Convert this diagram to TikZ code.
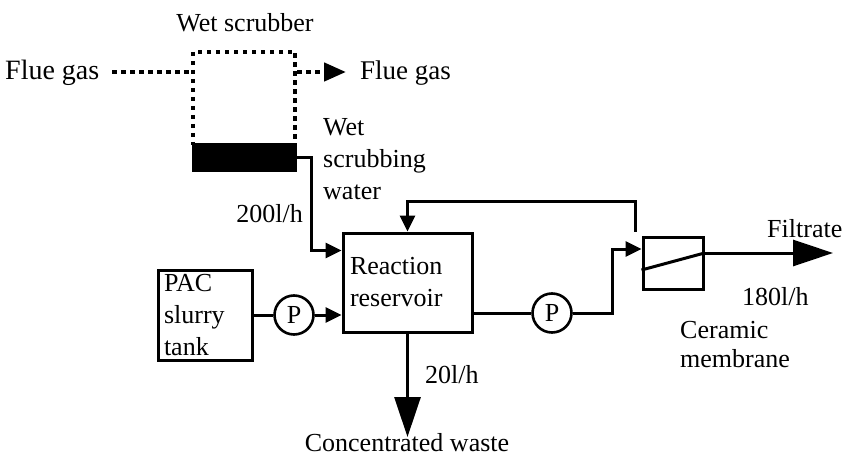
\documentclass[tikz,border=0pt]{standalone}
\usepackage{fontspec}
\setmainfont{Liberation Serif}
\usetikzlibrary{arrows.meta, positioning, calc}

\begin{document}
\begin{tikzpicture}[x=1pt, y=-1pt,
  every node/.style={font=\fontsize{26}{32}\selectfont},
  box/.style={draw, line width=3pt, inner sep=0pt, align=left},
  pump/.style={draw, circle, line width=2.6pt, inner sep=0pt, minimum size=39pt},
  dots/.style={draw, line width=4.5pt, dash pattern=on 4.5pt off 4.5pt},
  lbl/.style={inner sep=0pt, align=left},
  pipe/.style={line width=3pt},
  arr/.style={pipe, -{Triangle[length=16pt, width=15pt]}},
  bigarr/.style={pipe, -{Triangle[length=40pt, width=26pt]}}
]
\useasboundingbox (0,0) rectangle (850,457);

% wet scrubber
\node[dots, minimum width=102, minimum height=93] (scrubber) at (244,98.5) {};
\node[box, fill=black, minimum width=102, minimum height=25] (band) at (244,157.5) {};
\node[lbl, anchor=base] (scrubLbl) at (245,32) {Wet scrubber};
\coordinate (gasIn) at (112,72);
\coordinate (gasOut) at (346,72);
\draw[dots] (gasIn) -- (gasIn -| scrubber.west);
\draw[dots, -{Triangle[length=22pt, width=18pt]}] (gasIn -| scrubber.east) -- (gasOut);
\node[lbl, anchor=base west, font=\fontsize{28}{32}\selectfont] (gasInLbl) at (5,80) {Flue gas};
\node[lbl, anchor=base west, font=\fontsize{27}{32}\selectfont] (gasOutLbl) at (360,80) {Flue gas};
\node[lbl, anchor=north west] (waterLbl) at (323,118) {Wet\\scrubbing\\water};

% main units
\node[box, minimum width=129, minimum height=99, text width=115] (reservoir) at (407.5,282.5) {Reaction\\reservoir};
\node[box, minimum width=94, minimum height=90, text width=82] (pac) at (205,315) {PAC\\slurry\\tank};
\node[pump] (pump1) at (294,315) {P};
\node[pump] (pump2) at (552,313) {P};
\node[box, minimum width=60, minimum height=52] (membrane) at (673,263) {};

\coordinate (wIn) at ($(reservoir.north west)+(0,19)$);
\coordinate (memIn) at ($(membrane.west)+(0,-14)$);
\coordinate (filtIn) at ($(membrane.east)+(0,-10)$);
\coordinate (filtEnd) at (833,253);
\coordinate (wasteEnd) at (407.5,437);

% pipes
\draw[arr] (band.east) -- ++(15,0) |- (wIn);
\node[lbl, anchor=base east] (inFlow) at (303,222) {200l/h};
\draw[pipe] (pac) -- (pump1);
\draw[arr] (pump1) -- (pump1 -| reservoir.west);
\draw[pipe] (reservoir.east |- pump2) -- (pump2);
\draw[arr] (pump2) -- ++(60,0) |- (memIn);
\draw[arr] ($(membrane.north west)+(-6,-4)$) -- ++(0,-30) -| (reservoir.north);
\draw[pipe] ($(membrane.west)+(0,7)$) -- (filtIn);
\draw[bigarr] (filtIn) -- (filtEnd);
\draw[bigarr] (reservoir.south) -- (wasteEnd);

% labels
\node[lbl, anchor=base west] (filtLbl) at (767,237) {Filtrate};
\node[lbl, anchor=base west] (filtFlow) at (742,305) {180l/h};
\node[lbl, anchor=north west, font=\fontsize{26}{29}\selectfont] (memLbl) at (680,321) {Ceramic\\membrane};
\node[lbl, anchor=base west] (wasteFlow) at (425,383) {20l/h};
\node[lbl, anchor=base] (wasteLbl) at (407,451) {Concentrated waste};
\end{tikzpicture}
\end{document}
